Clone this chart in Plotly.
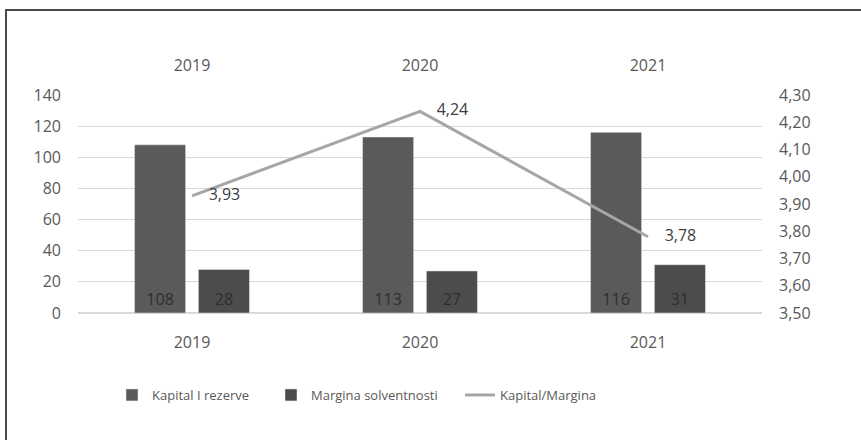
import plotly.graph_objects as go

years = ["2019", "2020", "2021"]
kapital = [108, 113, 116]
margina = [28, 27, 31]
omjer = [3.93, 4.24, 3.78]
left_ticks = [0, 20, 40, 60, 80, 100, 120, 140]
right_ticks = [3.5, 3.6, 3.7, 3.8, 3.9, 4.0, 4.1, 4.2, 4.3]

FONT = "Open Sans"
TXT = "#595959"
FS = 16

L, R, T, B = 78, 99, 95, 127
W, H = 861, 440
pw, ph = W - L - R, H - T - B


def px_x(p):
    return (p - L) / pw


def px_y(p):
    return (H - B - p) / ph


fig = go.Figure()
fig.add_trace(go.Bar(
    name="Kapital I rezerve", x=years, y=kapital, legend="legend",
    marker=dict(color="#5a5a5a"),
    text=[str(v) for v in kapital], textposition="inside",
    insidetextanchor="start", textangle=0, constraintext="none",
    textfont=dict(color="#2e2e2e", size=FS, family=FONT),
))
fig.add_trace(go.Bar(
    name="Margina solventnosti", x=years, y=margina, legend="legend2",
    marker=dict(color="#4c4c4c"),
    text=[str(v) for v in margina], textposition="inside",
    insidetextanchor="start", textangle=0, constraintext="none",
    textfont=dict(color="#2e2e2e", size=FS, family=FONT),
))
fig.add_trace(go.Scatter(
    name="Kapital/Margina", x=years, y=omjer, legend="legend3",
    xaxis="x2", yaxis="y2", mode="lines+text",
    line=dict(color="#a6a6a6", width=3),
    text=["    " + f"{v:.2f}".replace(".", ",") for v in omjer],
    textposition="middle right", cliponaxis=False,
    textfont=dict(color="#404040", size=FS, family=FONT),
))

leg_common = dict(orientation="h", xanchor="left", y=px_y(395),
                  yanchor="middle", bgcolor="rgba(0,0,0,0)",
                  font=dict(size=13, color=TXT, family=FONT))

fig.update_layout(
    width=W, height=H,
    margin=dict(l=L, r=R, t=T, b=B, pad=0),
    paper_bgcolor="white", plot_bgcolor="white",
    font=dict(family=FONT, size=FS, color=TXT),
    separators=", ",
    barmode="group", bargap=0.44, bargroupgap=0.2,
    showlegend=True,
    legend=dict(x=px_x(112), **leg_common),
    legend2=dict(x=px_x(271), **leg_common),
    legend3=dict(x=px_x(460), **leg_common),
    xaxis=dict(type="category", range=[-0.5, 2.5], showgrid=False,
               showline=False, zeroline=False, ticks="",
               ticklabelstandoff=18, tickfont=dict(size=FS, color=TXT)),
    xaxis2=dict(type="category", range=[-0.5, 2.5], overlaying="x",
                side="top", showgrid=False, showline=False,
                zeroline=False, ticks="", ticklabelstandoff=20,
                tickfont=dict(size=FS, color=TXT)),
    yaxis=dict(range=[0, 140], tickvals=left_ticks, showgrid=True,
               gridcolor="#d9d9d9", gridwidth=1, zeroline=True,
               zerolinecolor="#d9d9d9", showline=False, ticks="",
               ticklabelstandoff=16, tickfont=dict(size=FS, color=TXT)),
    yaxis2=dict(range=[3.5, 4.3], tickvals=right_ticks, tickformat=".2f",
                overlaying="y", side="right", showgrid=False,
                zeroline=False, showline=False, ticks="",
                ticklabelstandoff=16, tickfont=dict(size=FS, color=TXT)),
    shapes=[dict(type="path", xref="paper", yref="paper",
                 path=f"M {px_x(6)} {px_y(H + 5)} L {px_x(6)} {px_y(10)} L {px_x(W + 5)} {px_y(10)}",
                 line=dict(color="#4a4a4a", width=2), layer="above")],
)

fig.write_html("out.html", config={"displayModeBar": False},
               post_script="document.body.style.margin='0';")
